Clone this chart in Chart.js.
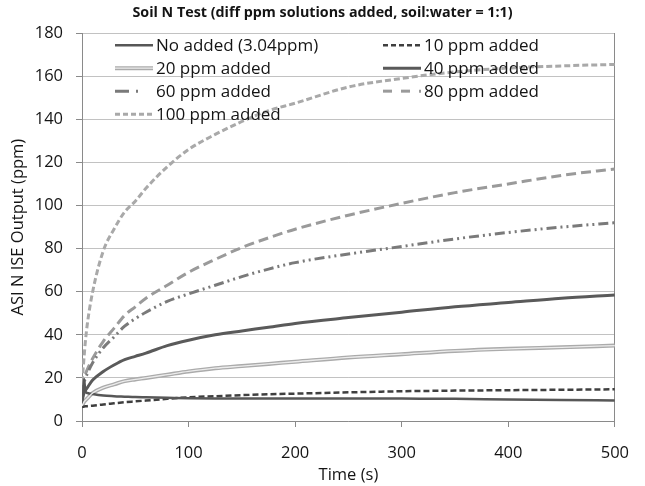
<!DOCTYPE html>
<html>
<head>
<meta charset="utf-8">
<script src="https://cdn.jsdelivr.net/npm/chart.js@4"></script>
<style>
  html, body { margin: 0; padding: 0; background: #fff; }
  #wrap { width: 645px; height: 486px; }
</style>
</head>
<body>
<div id="wrap"><canvas id="c" width="645" height="486"></canvas></div>
<script>
// Sampling times (s)
const timeS   = [0, 1, 2, 3, 5, 10, 20, 30, 40, 50, 60, 80, 100, 125, 150, 175, 200, 250, 300, 350, 400, 450, 500];

// ISE output (ppm) for each amount of N added
const noAdded = [8, 11.5, 19.5, 14, 13, 12.5, 11.8, 11.5, 11.3, 11.1, 11, 10.8, 10.6, 10.5, 10.5, 10.5, 10.5, 10.5, 10.4, 10.3, 10, 9.8, 9.5];
const ppm10   = [6.5, 6.6, 6.7, 6.8, 6.9, 7.1, 7.7, 8.2, 8.7, 9.1, 9.5, 10.3, 11, 11.5, 12, 12.4, 12.7, 13.3, 13.8, 14.1, 14.3, 14.5, 14.7];
const ppm20   = [7, 8, 9, 9.5, 10.5, 13, 15.5, 17, 18.5, 19.3, 20, 21.5, 23, 24.5, 25.5, 26.5, 27.5, 29.5, 31, 32.5, 33.5, 34.2, 35];
const ppm40   = [9, 11.5, 13, 14, 15.5, 19, 23, 26, 28.5, 30, 31.5, 35, 37.5, 40, 41.8, 43.5, 45.3, 48, 50.5, 53, 55, 57, 58.5];
const ppm60   = [12, 15, 18, 19.5, 22, 27, 34, 39, 44, 47.5, 50.5, 55.5, 59, 63, 67, 70.5, 73.5, 77.5, 81, 84.5, 87.5, 90, 92];
const ppm80   = [15, 17, 20, 21.5, 24, 29, 37, 43, 49, 53, 57, 63, 69, 75, 80.5, 85, 89, 95.5, 101, 106, 110, 114, 117];
const ppm100  = [18, 24, 30, 36, 45, 60, 79, 89, 97, 102, 108, 118, 126, 133, 139, 144, 147.5, 155, 159, 162, 163.8, 164.8, 165.5];

const seriesLabels = ['No added (3.04ppm)', '10 ppm added', '20 ppm added', '40 ppm added',
                      '60 ppm added', '80 ppm added', '100 ppm added'];

const chartTitle = 'Soil N Test (diff ppm solutions added, soil:water = 1:1)';
const xTitle = 'Time (s)';
const yTitle = 'ASI N ISE Output (ppm)';

const FONT = '"Open Sans", "Liberation Sans", sans-serif';
const AXIS = '#8a8a8a';
const TEXT = '#141414';

const pts = vals => timeS.map((t, i) => ({ x: t, y: vals[i] }));

function line(label, vals, color, width, dash, extra) {
  return Object.assign({
    label, data: pts(vals), borderColor: color, backgroundColor: color,
    borderWidth: width, borderDash: dash, pointRadius: 0, fill: false,
    cubicInterpolationMode: 'monotone', yAxisID: 'y'
  }, extra || {});
}

const datasets = [
  line(seriesLabels[0], noAdded, '#575757', 2.5, []),
  line(seriesLabels[1], ppm10,   '#3f3f3f', 2.5, [6, 3], { legendDash: [5, 3] }),
  line(seriesLabels[2], ppm20,   '#ababab', 4, []),
  // pale core of the double line for the 20 ppm series
  line('', ppm20, '#ececec', 1.3, [], { overlay: true, order: -1 }),
  line(seriesLabels[3], ppm40,   '#5a5a5a', 3, []),
  line(seriesLabels[4], ppm60,   '#7a7a7a', 3, [10, 4, 2, 4, 2, 4], { legendDash: [14, 7, 2, 20] }),
  line(seriesLabels[5], ppm80,   '#9a9a9a', 3, [10, 5], { legendDash: [9, 9] }),
  line(seriesLabels[6], ppm100,  '#a9a9a9', 3, [6, 3], { legendDash: [5, 3] })
];

// Two-column legend drawn inside the plot area
const insideLegend = {
  id: 'insideLegend',
  afterDatasetsDraw(chart) {
    const ctx = chart.ctx, a = chart.chartArea;
    ctx.save();
    ctx.font = '17px ' + FONT;
    ctx.fillStyle = TEXT;
    ctx.textBaseline = 'middle';
    let n = -1, x0 = 0, y = 0;
    chart.data.datasets.forEach(d => {
      if (!d.overlay) {
        n++;
        x0 = a.left + 33 + (n % 2) * 268;
        y = a.top + 12 + Math.floor(n / 2) * 23;
      }
      ctx.strokeStyle = d.borderColor;
      ctx.lineWidth = d.borderWidth;
      ctx.setLineDash(d.legendDash || d.borderDash || []);
      ctx.beginPath();
      ctx.moveTo(x0, y);
      ctx.lineTo(x0 + 38, y);
      ctx.stroke();
      if (!d.overlay) ctx.fillText(d.label, x0 + 41, y + 1);
    });
    ctx.restore();
  }
};

const tickFont = { family: FONT, size: 16.5 };

new Chart(document.getElementById('c'), {
  type: 'line',
  data: { datasets },
  plugins: [insideLegend],
  options: {
    responsive: false,
    animation: false,
    devicePixelRatio: 1,
    layout: { padding: 0 },
    plugins: {
      legend: { display: false },
      tooltip: { enabled: false },
      title: {
        display: true, text: chartTitle, color: TEXT,
        font: { family: FONT, size: 14.3, weight: 'bold' },
        padding: { top: 4, bottom: 12 }
      }
    },
    scales: {
      x: {
        type: 'linear', min: 0, max: 500,
        ticks: { stepSize: 100, color: TEXT, font: tickFont, padding: 16, maxRotation: 0 },
        grid: { drawOnChartArea: false, drawTicks: true, tickLength: 6, tickColor: AXIS },
        border: { color: AXIS, width: 1 },
        title: { display: true, text: xTitle, color: TEXT, font: tickFont, padding: { top: 0, bottom: 1 } },
        afterFit(s) { s.height = 65; }
      },
      y: {
        min: 0, max: 180,
        ticks: { stepSize: 20, color: TEXT, font: tickFont, padding: 13 },
        grid: { color: '#c2c2c2', lineWidth: 1, tickLength: 6, tickColor: AXIS },
        border: { color: AXIS, width: 1 },
        title: { display: true, text: yTitle, color: TEXT, font: tickFont, padding: { top: 8, bottom: 0 } },
        afterFit(s) { s.width = 82; }
      },
      // plain right-hand frame of the plot area
      frame: {
        position: 'right', min: 0, max: 180,
        ticks: { display: false },
        grid: { drawOnChartArea: false, drawTicks: false },
        border: { color: AXIS, width: 1 },
        afterFit(s) { s.width = 28; }
      }
    }
  }
});
</script>
</body>
</html>
